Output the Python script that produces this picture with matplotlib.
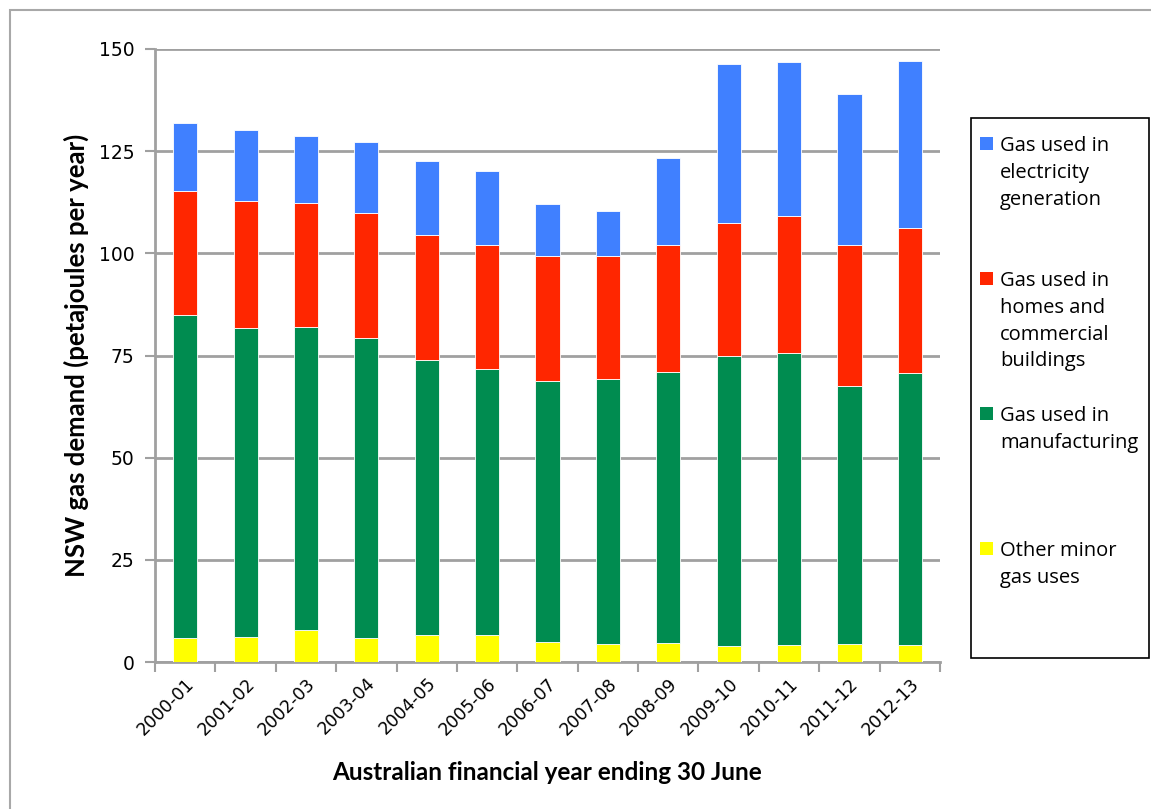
import matplotlib.pyplot as plt
from matplotlib.patches import Rectangle
import numpy as np

# NSW gas demand by use, petajoules per year
years = ['2000-01', '2001-02', '2002-03', '2003-04', '2004-05', '2005-06', '2006-07',
         '2007-08', '2008-09', '2009-10', '2010-11', '2011-12', '2012-13']
other_minor = [5.9, 6.2, 7.8, 5.9, 6.5, 6.7, 5.0, 4.5, 4.7, 4.0, 4.2, 4.5, 4.2]
manufacturing = [79.0, 75.6, 74.2, 73.5, 67.5, 64.9, 63.8, 64.7, 66.2, 71.0, 71.3, 63.0, 66.5]
homes_commercial = [30.3, 30.9, 30.3, 30.4, 30.5, 30.5, 30.6, 30.2, 31.2, 32.4, 33.7, 34.6, 35.6]
electricity = [16.7, 17.5, 16.5, 17.4, 18.0, 18.0, 12.6, 10.9, 21.2, 39.0, 37.6, 36.8, 40.8]

series = [
    (other_minor, '#FFFF00', 'Other minor\ngas uses'),
    (manufacturing, '#008C50', 'Gas used in\nmanufacturing'),
    (homes_commercial, '#FF2600', 'Gas used in\nhomes and\ncommercial\nbuildings'),
    (electricity, '#4080FF', 'Gas used in\nelectricity\ngeneration'),
]

W, H = 1151, 809
fig = plt.figure(figsize=(W / 100, H / 100), dpi=100)
ax = fig.add_axes([155 / W, 1 - 662 / H, (940 - 155) / W, (662 - 49) / H])

x = np.arange(len(years))
bottom = np.zeros(len(years))
for vals, col, lab in series:
    ax.bar(x, vals, 0.4, bottom=bottom, color=col, edgecolor='#ffffff',
           linewidth=0.6, zorder=3)
    bottom += np.array(vals)

ax.set_xlim(-0.5, len(years) - 0.5)
ax.set_ylim(0, 150)
ax.set_yticks([0, 25, 50, 75, 100, 125, 150])
ax.yaxis.grid(True, color='#a0a0a0', linewidth=2, zorder=0)
ax.set_axisbelow(True)

for s in ['top', 'right']:
    ax.spines[s].set_visible(False)
for s in ['left', 'bottom']:
    ax.spines[s].set_color('#a0a0a0')
    ax.spines[s].set_linewidth(2)

# tick marks sit between the categories, labels under the bars
ax.set_xticks(np.arange(len(years) + 1) - 0.5)
ax.set_xticklabels([])
ax.set_xticks(x, minor=True)
ax.set_xticklabels(years, minor=True, rotation=45, ha='right',
                   rotation_mode='anchor', fontsize=12.5, family='DejaVu Sans')
ax.tick_params(axis='x', which='major', length=7, width=1.5, color='#a0a0a0', direction='out')
ax.tick_params(axis='x', which='minor', length=0, pad=9)
ax.tick_params(axis='y', length=7, width=1.5, color='#a0a0a0', pad=8, labelsize=13.5)
for t in ax.get_yticklabels():
    t.set_family('DejaVu Sans')

ax.set_ylabel('NSW gas demand (petajoules per year)', fontsize=18.5,
              fontweight='bold', family='Lato', labelpad=7)
ax.set_xlabel('Australian financial year ending 30 June', fontsize=17.5,
              fontweight='bold', family='Lato', labelpad=16)

# legend box on the right, drawn by hand to keep the wide spacing
fig.add_artist(Rectangle((971 / W, 1 - 658 / H), (1149 - 971) / W, (658 - 118) / H,
                         transform=fig.transFigure, facecolor='white',
                         edgecolor='black', linewidth=1.2))
legend_y = [145, 280, 415, 550]
for (vals, col, lab), yy in zip(series[::-1], legend_y):
    fig.add_artist(Rectangle((980 / W, 1 - (yy + 5) / H), 13 / W, 13 / H,
                             transform=fig.transFigure, facecolor=col, edgecolor='none'))
    fig.text(1000 / W, 1 - (yy - 9) / H, lab, fontsize=14.5, family='Open Sans',
             va='top', ha='left', linespacing=1.45)

# outer chart frame
fig.add_artist(Rectangle((10 / W, -0.01), 1.0, 1 - 10 / H + 0.01,
                         transform=fig.transFigure, facecolor='none',
                         edgecolor='#a8a8a8', linewidth=1.5))

fig.savefig('out.png', dpi=100)
